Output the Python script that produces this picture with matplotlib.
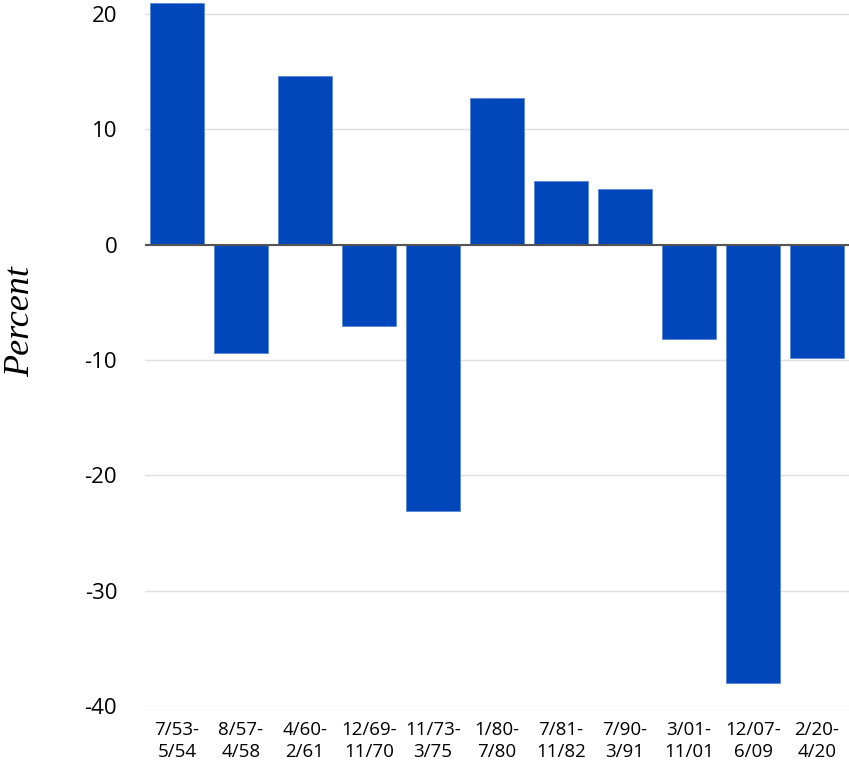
import matplotlib.pyplot as plt

# recession periods and percent change
periods = ["7/53-\n5/54", "8/57-\n4/58", "4/60-\n2/61", "12/69-\n11/70", "11/73-\n3/75",
           "1/80-\n7/80", "7/81-\n11/82", "7/90-\n3/91", "3/01-\n11/01", "12/07-\n6/09",
           "2/20-\n4/20"]
values = [20.9, -9.4, 14.6, -7.1, -23.1, 12.7, 5.5, 4.8, -8.2, -38.0, -9.8]
yticks = [20, 10, 0, -10, -20, -30, -40]

plt.rcParams['font.family'] = ['Open Sans', 'DejaVu Sans']

fig = plt.figure(figsize=(8.49, 7.6), dpi=100)
ax = fig.add_axes([0.1708, 0.0711, 0.8292, 0.9289])

x = range(len(values))
ax.bar(x, values, width=0.83, color="#0047bb", edgecolor="#5a86d6", linewidth=0.6, zorder=3)
ax.axhline(0, color="#555555", linewidth=1.5, zorder=4)

ax.set_xlim(-0.5, len(values) - 0.5)
ax.set_ylim(-40, 21.2)
ax.set_yticks(yticks)
ax.set_yticklabels([str(t) for t in yticks], fontsize=16)
ax.set_xticks(list(x))
ax.set_xticklabels(periods, fontsize=13.5, linespacing=1.25)
ax.tick_params(axis='y', length=0, pad=20)
ax.tick_params(axis='x', length=0, pad=11)
ax.grid(axis='y', color="#e0e0e0", linewidth=1, zorder=0)
for s in ax.spines.values():
    s.set_visible(False)

fig.text(21 / 849, 1 - 322 / 760, "Percent", rotation=90, ha='center', va='center',
         fontsize=26, fontstyle='italic', family='Liberation Serif')

plt.savefig("out.png", dpi=100)
